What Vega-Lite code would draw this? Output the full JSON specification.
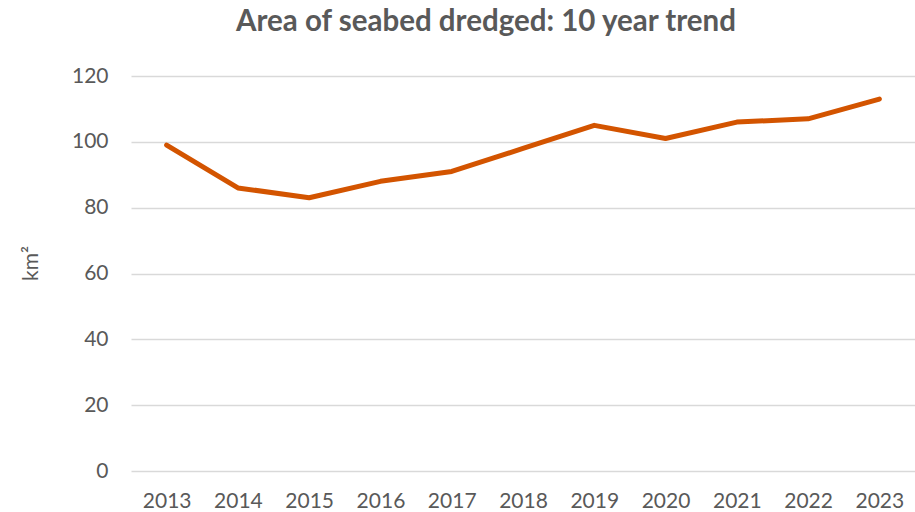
{
  "$schema": "https://vega.github.io/schema/vega-lite/v6.json",
  "width": 784,
  "height": 395,
  "autosize": {"type": "none"},
  "padding": {"left": 131, "top": 76, "right": 0, "bottom": 41},
  "background": "white",
  "view": {"stroke": null},
  "title": {
    "text": "Area of seabed dredged: 10 year trend",
    "anchor": "middle",
    "dx": -37,
    "offset": 5,
    "baseline": "alphabetic",
    "font": "Lato",
    "fontSize": 29.5,
    "fontWeight": "bold",
    "color": "#595959"
  },
  "data": {
    "values": [
      {"year": "2013", "area": 99},
      {"year": "2014", "area": 86},
      {"year": "2015", "area": 83},
      {"year": "2016", "area": 88},
      {"year": "2017", "area": 91},
      {"year": "2018", "area": 98},
      {"year": "2019", "area": 105},
      {"year": "2020", "area": 101},
      {"year": "2021", "area": 106},
      {"year": "2022", "area": 107},
      {"year": "2023", "area": 113}
    ]
  },
  "mark": {"type": "line", "color": "#d35400", "strokeWidth": 5, "strokeCap": "round", "strokeJoin": "round"},
  "encoding": {
    "x": {
      "field": "year",
      "type": "ordinal",
      "scale": {"type": "point", "padding": 0.5},
      "axis": {
        "title": null,
        "labelAngle": 0,
        "domain": false,
        "ticks": false,
        "grid": false,
        "labelPadding": 19,
        "labelFont": "Lato",
        "labelFontSize": 21,
        "labelColor": "#595959"
      }
    },
    "y": {
      "field": "area",
      "type": "quantitative",
      "scale": {"domain": [0, 120], "nice": false},
      "axis": {
        "title": "km²",
        "values": [0, 20, 40, 60, 80, 100, 120],
        "domain": false,
        "ticks": false,
        "grid": true,
        "gridColor": "#d9d9d9",
        "gridWidth": 1.5,
        "labelPadding": 23,
        "labelFont": "Lato",
        "labelFontSize": 21,
        "labelColor": "#595959",
        "titleFont": "Lato",
        "titleFontSize": 21,
        "titleFontWeight": "normal",
        "titleColor": "#595959",
        "titleX": -100,
        "titleY": 187,
        "titleBaseline": "middle",
        "titleAlign": "center",
        "titleAngle": -90
      }
    }
  }
}
